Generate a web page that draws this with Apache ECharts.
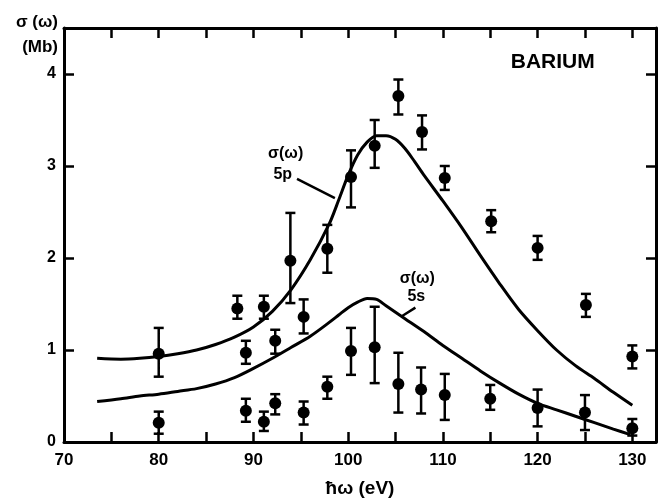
<!DOCTYPE html>
<html>
<head>
<meta charset="utf-8">
<script src="https://cdn.jsdelivr.net/npm/echarts@6/dist/echarts.min.js"></script>
<style>
  html, body { margin: 0; padding: 0; background: #fff; }
  #chart { width: 660px; height: 503px; }
</style>
</head>
<body>
<div id="chart"></div>
<script>
// Photoabsorption cross section of barium: measured points with error bars
// and calculated 5p and 5s partial cross sections.

// Measured points, upper branch: energy (eV), sigma (Mb), error low, error high
const upperE  = [80, 88.3, 91.1, 93.9, 95.3, 97.8, 100.3, 102.8, 105.3, 107.8, 110.2, 115.1, 120.0, 125.1, 130.0];
const upperS  = [0.96, 1.45, 1.47, 1.97, 1.36, 2.10, 2.88, 3.22, 3.76, 3.37, 2.87, 2.40, 2.11, 1.49, 0.93];
const upperLo = [0.71, 1.34, 1.34, 1.51, 1.18, 1.84, 2.55, 2.98, 3.56, 3.18, 2.74, 2.28, 1.98, 1.36, 0.80];
const upperHi = [1.24, 1.59, 1.59, 2.49, 1.55, 2.36, 3.17, 3.50, 3.94, 3.55, 3.00, 2.52, 2.24, 1.61, 1.05];

// Measured points, middle pair
const midE  = [89.2, 92.3];
const midS  = [0.97, 1.10];
const midLo = [0.85, 0.96];
const midHi = [1.10, 1.22];

// Measured points, lower branch
const lowerE  = [80, 89.2, 91.1, 92.3, 95.3, 97.8, 100.3, 102.8, 105.3, 107.7, 110.2, 115.0, 120.0, 125.0, 130.0];
const lowerS  = [0.21, 0.34, 0.22, 0.42, 0.32, 0.60, 0.99, 1.03, 0.63, 0.57, 0.51, 0.47, 0.37, 0.32, 0.15];
const lowerLo = [0.09, 0.22, 0.12, 0.30, 0.19, 0.47, 0.73, 0.64, 0.32, 0.31, 0.24, 0.35, 0.17, 0.13, 0.07];
const lowerHi = [0.33, 0.47, 0.33, 0.52, 0.44, 0.71, 1.24, 1.47, 0.97, 0.81, 0.74, 0.62, 0.57, 0.51, 0.25];

// Calculated 5p cross section
const curve5pE = [73.5, 76, 78, 80, 82, 84, 86, 88, 90, 92, 94, 96, 98, 99, 100, 101, 102, 103, 104, 105, 106, 107, 108, 110, 112, 114, 116, 118, 120, 122, 124, 126, 128, 130];
const curve5pS = [0.91, 0.90, 0.91, 0.93, 0.96, 1.00, 1.06, 1.14, 1.25, 1.42, 1.66, 1.98, 2.37, 2.63, 2.90, 3.12, 3.26, 3.33, 3.33, 3.29, 3.19, 3.05, 2.90, 2.62, 2.33, 2.02, 1.72, 1.44, 1.21, 1.00, 0.83, 0.69, 0.54, 0.40];

// Calculated 5s cross section
const curve5sE = [73.5, 76, 78, 80, 82, 84, 86, 88, 90, 92, 94, 96, 98, 99, 100, 101, 102, 103, 104, 106, 108, 110, 112, 114, 116, 118, 120, 122, 124, 126, 128, 129.8];
const curve5sS = [0.44, 0.47, 0.50, 0.52, 0.55, 0.58, 0.63, 0.70, 0.80, 0.91, 1.03, 1.15, 1.30, 1.38, 1.46, 1.52, 1.56, 1.55, 1.48, 1.34, 1.20, 1.05, 0.91, 0.77, 0.64, 0.52, 0.42, 0.35, 0.28, 0.21, 0.14, 0.08];

// Text placed in the plot: [energy, sigma, text]
const plotTexts = [
  [93.4, 3.14, 'σ(ω)'],
  [93.1, 2.91, '5p'],
  [107.3, 1.78, 'σ(ω)'],
  [107.2, 1.58, '5s'],
  [121.6, 4.13, 'BARIUM']
];
// Leader lines from the curve names to the curves
const leaderLines = [
  [[94.6, 2.86], [98.6, 2.65]],
  [[107.1, 1.46], [105.7, 1.37]]
];

// Axis ticks
const xTickLabels = [70, 80, 90, 100, 110, 120, 130];
const yTickLabels = [0, 1, 2, 3, 4];

const FONT = 'Liberation Sans';
const GAP = '-';

const allE  = upperE.concat(midE, lowerE);
const allS  = upperS.concat(midS, lowerS);
const allLo = upperLo.concat(midLo, lowerLo);
const allHi = upperHi.concat(midHi, lowerHi);

// vertical error-bar stems, broken between points
const stems = [];
allE.forEach((x, i) => { stems.push([x, allLo[i]], [x, allHi[i]], [x, GAP]); });
// cap ends of the error bars
const caps = [];
allE.forEach((x, i) => { caps.push([x, allLo[i]], [x, allHi[i]]); });
// point markers
const marks = allE.map((x, i) => [x, allS[i]]);
// leader segments
const leaders = [];
leaderLines.forEach(seg => { leaders.push(seg[0], seg[1], [seg[1][0], GAP]); });

function pairs(e, s) { return e.map((x, i) => [x, s[i]]); }

const chart = echarts.init(document.getElementById('chart'), null, { renderer: 'canvas' });

const axisLine = () => ({ show: true, onZero: false, lineStyle: { color: '#000', width: 3 } });
const tickIn = () => ({ show: true, inside: true, length: 10, lineStyle: { color: '#000', width: 2.5 } });
const hiddenLine = { opacity: 0, width: 0 };

chart.setOption({
  animation: false,
  grid: { left: 64, right: 4, top: 28, bottom: 61, outerBoundsMode: 'none' },
  xAxis: [
    {
      type: 'value', position: 'bottom', min: 70, max: 132.5, interval: 5,
      axisLine: axisLine(), axisTick: tickIn(), splitLine: { show: false },
      axisLabel: {
        margin: 10, color: '#000', fontFamily: FONT, fontWeight: 'bold', fontSize: 17,
        showMaxLabel: false,
        formatter: v => (xTickLabels.indexOf(v) >= 0 ? String(v) : '')
      },
      name: 'ħω (eV)', nameLocation: 'middle', nameGap: 37,
      nameTextStyle: { color: '#000', fontFamily: FONT, fontWeight: 'bold', fontSize: 19 }
    },
    {
      type: 'value', position: 'top', min: 70, max: 132.5, interval: 5,
      axisLine: axisLine(), axisTick: tickIn(), splitLine: { show: false },
      axisLabel: { show: false }
    }
  ],
  yAxis: [
    {
      type: 'value', position: 'left', min: 0, max: 4.5, interval: 1,
      axisLine: axisLine(), axisTick: tickIn(), splitLine: { show: false },
      axisLabel: {
        margin: 8, color: '#000', fontFamily: FONT, fontWeight: 'bold', fontSize: 16,
        showMaxLabel: false,
        formatter: v => (yTickLabels.indexOf(v) >= 0 ? String(v) : '')
      },
      name: 'σ (ω)\n(Mb)', nameLocation: 'end', nameGap: 18,
      nameTextStyle: {
        color: '#000', fontFamily: FONT, fontWeight: 'bold', fontSize: 17,
        align: 'right', verticalAlign: 'top', lineHeight: 25, padding: [0, 6, 0, 0]
      }
    },
    {
      type: 'value', position: 'right', min: 0, max: 4.5, interval: 1,
      axisLine: axisLine(), axisTick: tickIn(), splitLine: { show: false },
      axisLabel: { show: false }
    }
  ],
  series: [
    {
      type: 'line', name: '5p', data: pairs(curve5pE, curve5pS), smooth: 0.3,
      showSymbol: false, color: '#000', lineStyle: { color: '#000', width: 3 }, z: 2
    },
    {
      type: 'line', name: '5s', data: pairs(curve5sE, curve5sS), smooth: 0.3,
      showSymbol: false, color: '#000', lineStyle: { color: '#000', width: 3 }, z: 2
    },
    {
      type: 'line', name: 'leaders', data: leaders, showSymbol: false,
      color: '#000', lineStyle: { color: '#000', width: 2.5 }, z: 3
    },
    {
      type: 'line', name: 'stems', data: stems, showSymbol: false,
      color: '#000', lineStyle: { color: '#000', width: 2.5 }, z: 3
    },
    {
      type: 'line', name: 'caps', data: caps, showSymbol: true, showAllSymbol: true,
      symbol: 'rect', symbolSize: [10, 2.5], color: '#000',
      itemStyle: { color: '#000' }, lineStyle: hiddenLine, z: 4
    },
    {
      type: 'line', name: 'points', data: marks, showSymbol: true, showAllSymbol: true,
      symbol: 'circle', symbolSize: 12, color: '#000',
      itemStyle: { color: '#000' }, lineStyle: hiddenLine, z: 5
    },
    {
      type: 'line', name: 'texts', showSymbol: true, showAllSymbol: true,
      symbol: 'circle', symbolSize: 1, lineStyle: hiddenLine,
      itemStyle: { color: 'rgba(255,255,255,0)' }, z: 6,
      label: {
        show: true, position: 'inside', color: '#000',
        fontFamily: FONT, fontWeight: 'bold', fontSize: 16,
        formatter: p => p.data.text
      },
      data: plotTexts.map(t => ({
        value: [t[0], t[1]], text: t[2],
        label: t[2] === 'BARIUM' ? { fontSize: 21 } : undefined
      }))
    }
  ]
});
</script>
</body>
</html>
